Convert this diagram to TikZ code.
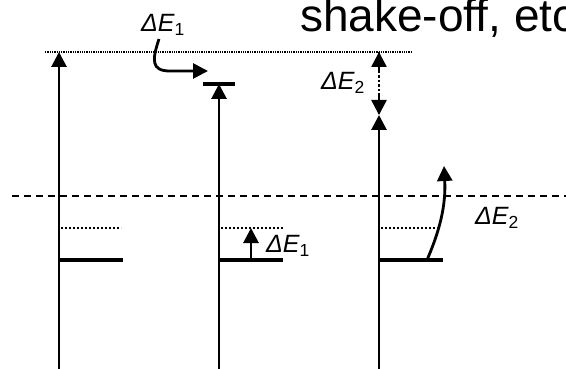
\documentclass[tikz,border=0pt]{standalone}
\usepackage{fontspec}
\setmainfont{Liberation Sans}
\usetikzlibrary{arrows.meta}
\begin{document}
\begin{tikzpicture}[x=1pt,y=-1pt,
  vline/.style={line width=2.8pt},
  level/.style={line width=3.2pt},
  dotline/.style={line width=2pt,dotted},
  topline/.style={line width=1.3pt,densely dotted},
  tip/.style={-{Triangle[length=15pt,width=15pt]}},
  lbl/.style={font=\fontsize{25}{25}\selectfont\itshape,inner sep=0pt}]
\useasboundingbox (0,0) rectangle (566,369);
% reference lines
\coordinate (tl) at (45,52); \coordinate (tr) at (411,52);
\draw[topline] (tl) -- (tr);
\coordinate (dl) at (12,196); \coordinate (dr) at (566,196);
\draw[line width=2pt,dash pattern=on 7pt off 5pt] (dl) -- (dr);
% title
\node[anchor=base west,inner sep=0pt,font=\fontsize{46}{46}\selectfont] (title) at (300,32) {shake-off, etc.};
% column 1
\coordinate (a0) at (59,369); \coordinate (a1) at (59,52);
\draw[vline,tip] (a0) -- (a1);
\coordinate (ad0) at (61,228); \coordinate (ad1) at (121,228);
\draw[dotline] (ad0) -- (ad1);
\coordinate (al0) at (59,260); \coordinate (al1) at (123,260);
\draw[level] (al0) -- (al1);
% column 2
\coordinate (b0) at (219,369); \coordinate (b1) at (219,84);
\draw[vline,tip] (b0) -- (b1);
\coordinate (bb0) at (203,84); \coordinate (bb1) at (235,84);
\draw[level] (bb0) -- (bb1);
\coordinate (bd0) at (221,228); \coordinate (bd1) at (283,228);
\draw[dotline] (bd0) -- (bd1);
\coordinate (bl0) at (219,260); \coordinate (bl1) at (283,260);
\draw[level] (bl0) -- (bl1);
\coordinate (bs0) at (251,260); \coordinate (bs1) at (251,228);
\draw[vline,tip] (bs0) -- (bs1);
\node[lbl] (e1b) at (288,246) {ΔE\textsubscript{\upshape 1}};
\node[lbl] (e1a) at (163,25) {ΔE\textsubscript{\upshape 1}};
\coordinate (ca0) at (159,39); \coordinate (ca1) at (208,71);
\draw[vline,tip] (ca0) .. controls (152,60) and (151,71) .. (170,71) -- (ca1);
% column 3
\coordinate (c0) at (379,369); \coordinate (c1) at (379,115);
\draw[vline,tip] (c0) -- (c1);
\coordinate (cu1) at (379,52); \coordinate (cu2) at (379,115);
\draw[line width=2.6pt,dotted] (cu1) -- (cu2);
\draw[tip,line width=2.6pt] (379,72) -- (cu1);
\draw[tip,line width=2.6pt] (379,96) -- (cu2);
\node[lbl] (e2a) at (343,83) {ΔE\textsubscript{\upshape 2}};
\coordinate (cd0) at (381,228); \coordinate (cd1) at (438,228);
\draw[dotline] (cd0) -- (cd1);
\coordinate (cl0) at (379,260); \coordinate (cl1) at (443,260);
\draw[level] (cl0) -- (cl1);
\coordinate (cc0) at (427,260); \coordinate (cc1) at (444,166);
\draw[vline,tip] (cc0) .. controls (440,230) and (446,205) .. (cc1);
\node[lbl] (e2b) at (497,218) {ΔE\textsubscript{\upshape 2}};
\end{tikzpicture}
\end{document}
